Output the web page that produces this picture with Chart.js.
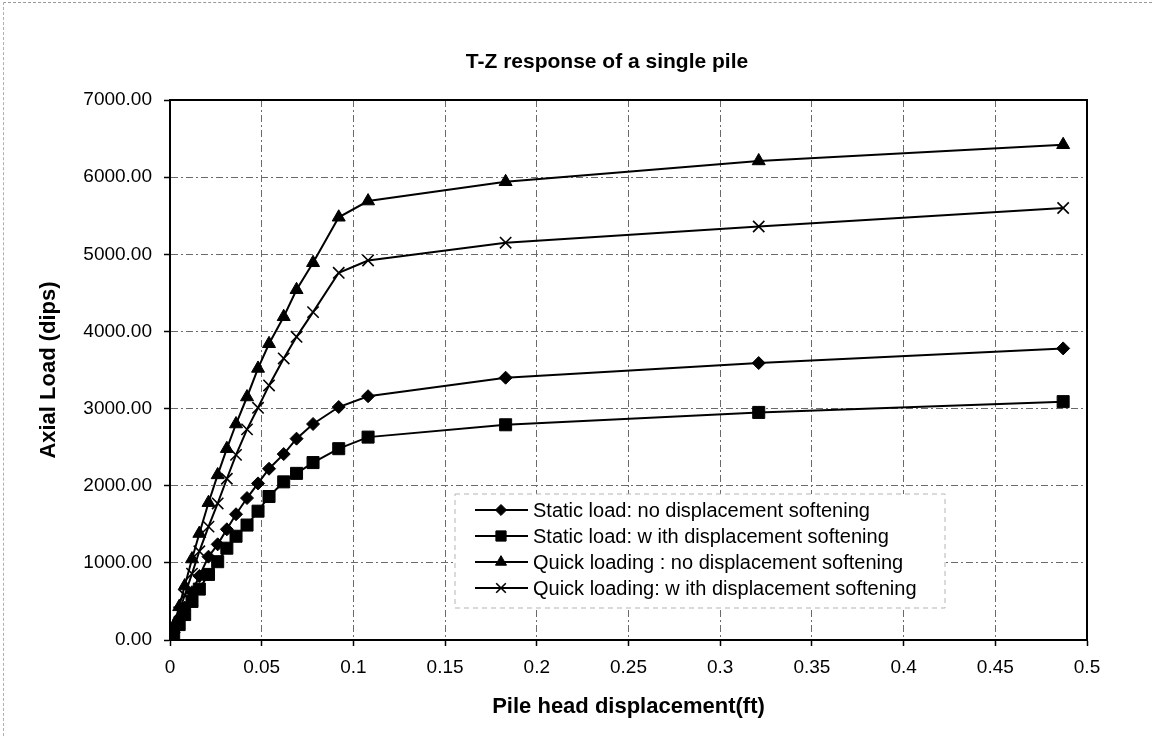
<!DOCTYPE html>
<html lang="en">
<head>
  <meta charset="UTF-8" />
  <title>T-Z response of a single pile</title>
  <script src="https://cdn.jsdelivr.net/npm/chart.js"></script>
  <style>
    html, body {
      margin: 0;
      padding: 0;
      background: #fff;
    }

    .page {
      position: relative;
      width: 1152px;
      height: 736px;
      overflow: hidden;
    }

    /* faint scan edges of the original page */
    .page::before {
      content: '';
      position: absolute;
      left: 3px; top: 2px; right: 0; bottom: 0;
      border-top: 1px dashed #9a9a9a;
      border-left: 1px dashed #b0b0b0;
      pointer-events: none;
    }

    canvas {
      display: block;
    }
  </style>
</head>
<body>
  <div class="page">
    <canvas id="chart" width="1152" height="736"></canvas>
  </div>

  <script>
    // Pile head displacement (ft), shared by all four runs
    const displacement = [0, 0.002, 0.005, 0.008, 0.012, 0.016, 0.021, 0.026, 0.031, 0.036, 0.042,
                          0.048, 0.054, 0.062, 0.069, 0.078, 0.092, 0.108, 0.183, 0.321, 0.487];

    // Axial load (dips)
    const staticNoSoft = [0, 100, 260, 420, 620, 830, 1080, 1240, 1435, 1630, 1840,
                          2030, 2220, 2410, 2610, 2800, 3020, 3160, 3400, 3590, 3780];
    const staticSoft   = [0, 80, 200, 330, 500, 660, 850, 1015, 1190, 1345, 1490,
                          1670, 1860, 2050, 2160, 2300, 2480, 2630, 2790, 2950, 3090];
    const quickNoSoft  = [0, 180, 430, 700, 1050, 1380, 1780, 2140, 2480, 2800, 3150,
                          3520, 3840, 4190, 4540, 4890, 5480, 5690, 5940, 6210, 6420];
    const quickSoft    = [0, 150, 360, 580, 860, 1150, 1470, 1770, 2090, 2400, 2730,
                          3010, 3300, 3650, 3930, 4250, 4760, 4920, 5150, 5360, 5600];

    const seriesNames = [
      'Static load: no displacement softening',
      'Static load: w ith displacement softening',
      'Quick loading : no displacement softening',
      'Quick loading: w ith displacement softening'
    ];

    const xTicks = [0, 0.05, 0.1, 0.15, 0.2, 0.25, 0.3, 0.35, 0.4, 0.45, 0.5];
    const yTicks = [0, 1000, 2000, 3000, 4000, 5000, 6000, 7000];

    const chartTitle = 'T-Z response of a single pile';

    const FONT = "'Liberation Sans', Arial, sans-serif";
    Chart.defaults.font.family = FONT;
    Chart.defaults.color = '#000';

    const toPoints = ys => displacement.map((x, i) => ({ x: x, y: ys[i] }));

    const markers = [
      { pointStyle: 'rectRot', radius: 6.5, borderWidth: 1 },
      { pointStyle: 'rect', radius: 8.5, borderWidth: 1 },
      { pointStyle: 'triangle', radius: 7.5, borderWidth: 1 },
      { pointStyle: 'crossRot', radius: 8, borderWidth: 1.6 }
    ];

    const makeSet = (ys, i) => ({
      label: seriesNames[i],
      data: toPoints(ys),
      borderColor: '#000',
      backgroundColor: '#000',
      borderWidth: 2,
      tension: 0,
      pointStyle: markers[i].pointStyle,
      pointRadius: markers[i].radius,
      pointBorderWidth: markers[i].borderWidth,
      pointBackgroundColor: '#000',
      pointBorderColor: '#000'
    });

    // title, placed a little left of the plot centre like the original
    const titleText = {
      id: 'titleText',
      afterDraw(chart) {
        const ctx = chart.ctx;
        ctx.save();
        ctx.fillStyle = '#000';
        ctx.font = 'bold 21px ' + FONT;
        ctx.textAlign = 'center';
        ctx.textBaseline = 'middle';
        ctx.fillText(chartTitle, 607, 62);
        ctx.restore();
      }
    };

    // full box around the plot area
    const plotFrame = {
      id: 'plotFrame',
      afterDatasetsDraw(chart) {
        const { ctx, chartArea: a } = chart;
        ctx.save();
        ctx.strokeStyle = '#000';
        ctx.lineWidth = 2;
        ctx.strokeRect(a.left, a.top, a.right - a.left, a.bottom - a.top);
        ctx.restore();
      }
    };

    // legend box sitting inside the plot, lower right
    const legendBox = {
      id: 'legendBox',
      afterDraw(chart) {
        const ctx = chart.ctx;
        const box = { left: 455, top: 494, right: 945, bottom: 608 };
        const rowY = [510, 536, 562, 588];
        ctx.save();
        ctx.fillStyle = '#fff';
        ctx.fillRect(box.left, box.top, box.right - box.left, box.bottom - box.top);
        ctx.setLineDash([5, 4]);
        ctx.strokeStyle = '#b5b5b5';
        ctx.lineWidth = 1;
        ctx.strokeRect(box.left, box.top, box.right - box.left, box.bottom - box.top);
        ctx.setLineDash([]);

        chart.data.datasets.forEach((ds, i) => {
          const y = rowY[i];
          ctx.strokeStyle = '#000';
          ctx.lineWidth = 2;
          ctx.beginPath();
          ctx.moveTo(475, y);
          ctx.lineTo(528, y);
          ctx.stroke();
          ctx.fillStyle = '#000';
          ctx.lineWidth = markers[i].borderWidth;
          if (Chart.helpers && Chart.helpers.drawPoint) {
            Chart.helpers.drawPoint(ctx, {
              pointStyle: markers[i].pointStyle,
              radius: markers[i].radius * 0.85,
              rotation: 0,
              borderWidth: markers[i].borderWidth
            }, 501, y);
          }
          ctx.fillStyle = '#000';
          ctx.font = '20px ' + FONT;
          ctx.textBaseline = 'middle';
          ctx.textAlign = 'left';
          ctx.fillText(ds.label, 533, y + 1);
        });
        ctx.restore();
      }
    };

    const gridStyle = {
      color: '#6a6a6a',
      lineWidth: 1,
      tickColor: '#000',
      tickLength: 6,
      tickWidth: 1.5
    };

    new Chart(document.getElementById('chart'), {
      type: 'line',
      data: {
        datasets: [
          makeSet(staticNoSoft, 0),
          makeSet(staticSoft, 1),
          makeSet(quickNoSoft, 2),
          makeSet(quickSoft, 3)
        ]
      },
      options: {
        responsive: false,
        animation: false,
        devicePixelRatio: 1,
        layout: { padding: { left: 0, right: 65, top: 100, bottom: 0 } },
        plugins: {
          legend: { display: false },
          tooltip: { enabled: false },
          title: { display: false }
        },
        scales: {
          x: {
            type: 'linear',
            min: 0,
            max: 0.5,
            afterBuildTicks: s => { s.ticks = xTicks.map(v => ({ value: v })); },
            afterFit: s => { s.height = 96; },
            ticks: {
              color: '#000',
              font: { size: 19 },
              padding: 10,
              maxRotation: 0,
              autoSkip: false,
              callback: v => String(v)
            },
            grid: gridStyle,
            border: { color: '#000', width: 2, dash: [7, 3, 2, 3] },
            title: {
              display: true,
              text: 'Pile head displacement(ft)',
              color: '#000',
              font: { size: 22, weight: 'bold' },
              padding: { top: 0, bottom: 16 }
            }
          },
          y: {
            type: 'linear',
            min: 0,
            max: 7000,
            afterBuildTicks: s => { s.ticks = yTicks.map(v => ({ value: v })); },
            afterFit: s => { s.width = 170; },
            ticks: {
              color: '#000',
              font: { size: 19 },
              padding: 12,
              autoSkip: false,
              callback: v => Number(v).toFixed(2)
            },
            grid: gridStyle,
            border: { color: '#000', width: 2, dash: [7, 3, 2, 3] },
            title: {
              display: true,
              text: 'Axial Load (dips)',
              color: '#000',
              font: { size: 22, weight: 'bold' },
              padding: { top: 36, bottom: 0 }
            }
          }
        }
      },
      plugins: [titleText, plotFrame, legendBox]
    });
  </script>
</body>
</html>
